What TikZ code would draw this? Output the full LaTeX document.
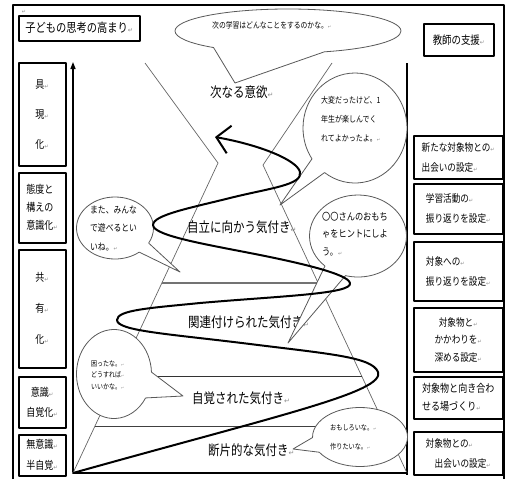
\documentclass[tikz,border=0pt]{standalone}
\usepackage{fontspec}
\setmainfont{Noto Sans CJK JP}[FakeStretch=0.82]
\newfontfamily\dvs{DejaVu Sans}
\usetikzlibrary{shapes.callouts,arrows.meta}
\newcommand\ret{{\dvs\color{black!45}\scalebox{0.5}{↵}}}
\begin{document}
\begin{tikzpicture}[x=1pt,y=-1pt,line join=round,
  frame/.style={line width=2.4pt},
  lbox/.style={draw,line width=1.5pt,rectangle,inner sep=0pt,anchor=north west,align=center,font=\fontsize{11}{18}\selectfont},
  rbox/.style={draw,line width=1.5pt,rectangle,inner sep=0pt,anchor=north west,minimum width=89pt,align=left,font=\fontsize{10.5}{20}\selectfont},
  pyr/.style={draw=black!60,line width=0.7pt},
  stage/.style={inner sep=0pt,anchor=west,font=\fontsize{14}{16}\selectfont},
  bub/.style={ellipse callout,draw=black!65,line width=0.8pt,fill=white,inner sep=0pt},
  btext/.style={inner sep=0pt,anchor=west,align=left},
  spiral/.style={line width=2pt,line cap=round}]
\path[use as bounding box] (0,0) rectangle (508,479);
% frame
\coordinate (f1) at (13,479); \coordinate (f2) at (13,5);
\coordinate (f3) at (504,5); \coordinate (f4) at (504,479);
\draw[frame] (f1) -- (f2) -- (f3) -- (f4);
\node[inner sep=0pt] (pm0) at (24,12) {\ret};
% left column
\node[lbox,minimum width=121pt,minimum height=25pt,font=\fontsize{12.5}{15}\selectfont] (t1) at (18,15) {子どもの思考の高まり\ret};
\node[lbox,minimum width=47pt,minimum height=103pt,font=\fontsize{11}{30}\selectfont] (l1) at (18,62) {具\ret\\現\ret\\化\ret};
\node[lbox,minimum width=47pt,minimum height=70pt,align=left] (l2) at (18,172) {態度と\\構えの\\意識化\ret};
\node[lbox,minimum width=47pt,minimum height=118pt,font=\fontsize{11}{31}\selectfont] (l3) at (18,249) {共\ret\\有\ret\\化\ret};
\node[lbox,minimum width=47pt,minimum height=51pt,font=\fontsize{11}{20}\selectfont] (l4) at (18,376) {意識\ret\\自覚化\ret};
\node[lbox,minimum width=47pt,minimum height=41pt,font=\fontsize{11}{21}\selectfont] (l5) at (18,434) {無意識\ret\\半自覚\ret};
% vertical arrow
\coordinate (va1) at (73,472); \coordinate (va2) at (73,62);
\draw[line width=1.3pt,-{Triangle[length=7pt,width=5pt]}] (va1) -- (va2);
% right column
\coordinate (rc1) at (407,63); \coordinate (rc2) at (407,475);
\draw[line width=1.6pt] (rc1) -- (rc2);
\node[lbox,minimum width=70pt,minimum height=32pt,font=\fontsize{11.5}{14}\selectfont] (rt0) at (423,23) {教師の支援\ret};
\node[rbox,minimum height=43pt] (r1) at (413,135) {新たな対象物との\ret\\出会いの設定\ret};
\node[rbox,minimum height=50pt] (r2) at (413,183) {学習活動の\ret\\振り返りを設定\ret};
\node[rbox,minimum height=59pt] (r3) at (413,241) {対象への\ret\\振り返りを設定\ret};
\node[rbox,minimum height=64pt,align=center,font=\fontsize{10.5}{17.5}\selectfont] (r4) at (413,307) {対象物と\ret\\かかわりを\ret\\深める設定\ret};
\node[rbox,minimum height=42pt,font=\fontsize{11}{18}\selectfont] (r5) at (413,376) {対象物と向き合わ\\せる場づくり\ret};
\node[rbox,minimum height=43pt] (r6) at (413,431) {対象物との\ret\\\hspace*{9pt}出会いの設定\ret};
% pyramid
\coordinate (pbl) at (73,473); \coordinate (pbr) at (407,473);
\coordinate (pl) at (218,163); \coordinate (pr) at (263,165);
\coordinate (ptl) at (145,63); \coordinate (ptr) at (332,63);
\draw[pyr] (ptl) -- (pl) -- (pbl);
\draw[pyr] (ptr) -- (pr) -- (pbr);
\coordinate (h1a) at (162,283); \coordinate (h1b) at (319,283);
\coordinate (h2a) at (118,376); \coordinate (h2b) at (362,376);
\coordinate (h3a) at (95,426); \coordinate (h3b) at (385,426);
\draw[line width=2pt,black!55] (h1a) -- (h1b);
\draw[line width=1pt,black!80] (h2a) -- (h2b);
\draw[line width=0.8pt,black!75] (h3a) -- (h3b);
\draw[line width=2pt] (pbl) -- (pbr);
% stage labels
\node[stage] (s5) at (210,92) {次なる意欲\ret};
\node[stage] (s4) at (187,227) {自立に向かう気付き\ret};
\node[stage] (s3) at (188,322) {関連付けられた気付き\ret};
\node[stage] (s2) at (192,398) {自覚された気付き\ret};
\node[stage] (s1) at (208,450) {断片的な気付き\ret};
% bubbles
\node[bub,minimum width=226pt,minimum height=44pt,callout absolute pointer={(235,83)},callout pointer arc=60] (ba) at (288,31) {};
\node[bub,minimum width=104pt,minimum height=110pt,callout absolute pointer={(280,205)},callout pointer arc=20] (bb) at (355,128) {};
\node[bub,minimum width=77pt,minimum height=62pt,callout absolute pointer={(180,272)},callout pointer arc=22] (bc) at (115,228) {};
\node[bub,minimum width=97pt,minimum height=82pt,callout absolute pointer={(288,343)},callout pointer arc=28] (bd) at (358,236) {};
\node[bub,minimum width=75pt,minimum height=89pt,callout absolute pointer={(183,396)},callout pointer arc=35] (be) at (114,374) {};
\node[bub,minimum width=95pt,minimum height=59pt,callout absolute pointer={(293,449)},callout pointer arc=30] (bf) at (360,437) {};
% spiral
\coordinate (sp0) at (73,473);
\coordinate (spR1) at (378,372);
\coordinate (spL1) at (117,320);
\coordinate (spR2) at (350,283);
\coordinate (spL2) at (153,225);
\coordinate (spR3) at (300,172);
\coordinate (spE) at (215,137);
\draw[spiral,-{Straight Barb[length=13pt,width=28pt]}] (sp0)
  .. controls (280,415) and (385,392) .. (spR1)
  .. controls (372,357) and (330,354) .. (250,344)
  .. controls (170,334) and (117,331) .. (spL1)
  .. controls (117,310) and (150,308) .. (200,303)
  .. controls (280,296) and (353,294) .. (spR2)
  .. controls (348,274) and (300,263) .. (260,255)
  .. controls (210,245) and (153,236) .. (spL2)
  .. controls (153,215) and (190,208) .. (230,198)
  .. controls (270,188) and (303,185) .. (spR3)
  .. controls (297,160) and (260,145) .. (spE);
% bubble texts
\node[btext,font=\fontsize{8.3}{10}\selectfont] (ta) at (212,25) {次の学習はどんなことをするのかな。\ret};
\node[btext,font=\fontsize{8.5}{19}\selectfont] (tb) at (321,119) {大変だったけど、1\\年生が楽しんでく\\れてよかったよ。\ret};
\node[btext,font=\fontsize{9.5}{18.5}\selectfont] (tc) at (90,228) {また、みんな\\で遊べるとい\\いね。\ret};
\node[btext,font=\fontsize{10}{17.5}\selectfont] (td) at (322,234) {〇〇さんのおもち\\ゃをヒントにしよ\\う。\ret};
\node[btext,font=\fontsize{7.3}{11.5}\selectfont] (te) at (91,375) {困ったな。\ret\\どうすれば\ret\\いいかな。\ret};
\node[btext,font=\fontsize{7.5}{19}\selectfont] (tf) at (330,437) {おもしろいな。\ret\\作りたいな。\ret};
\end{tikzpicture}
\end{document}
